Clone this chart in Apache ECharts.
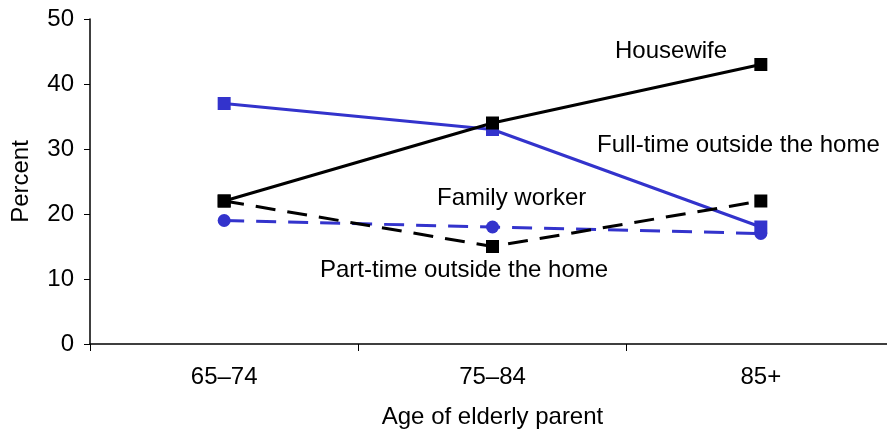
<!DOCTYPE html>
<html><head><meta charset="utf-8">
<script src="https://cdn.jsdelivr.net/npm/echarts@6/dist/echarts.min.js"></script>
<style>html,body{margin:0;padding:0;background:#fff}#c{width:887px;height:432px}</style>
</head><body><div id="c"></div>
<script>
var categories = ['65–74', '75–84', '85+'];
var housewife = [22, 34, 43];
var fullTime = [37, 33, 18];
var familyWorker = [22, 15, 22];
var partTime = [19, 18, 17];
var yTicks = [0, 10, 20, 30, 40, 50];

var F = 'Liberation Sans, Arial, sans-serif';
var FS = 24;
var chart = echarts.init(document.getElementById('c'));
function lbl(text, x, y) {
  return {type: 'text', x: x, y: y, style: {text: text, font: FS + 'px ' + F, fill: '#000', textVerticalAlign: 'middle', verticalAlign: 'middle'}};
}
chart.setOption({
  animation: false,
  grid: {left: 90, width: 805, top: 19, height: 325, outerBoundsMode: 'none', containLabel: false},
  xAxis: {
    type: 'category', data: categories, boundaryGap: true,
    name: 'Age of elderly parent', nameLocation: 'middle', nameGap: 61,
    nameTextStyle: {fontFamily: F, fontSize: FS, color: '#000'},
    axisLine: {lineStyle: {color: '#000', width: 1.5}},
    axisTick: {show: true, length: 7, lineStyle: {color: '#000'}},
    axisLabel: {fontFamily: F, fontSize: FS, color: '#000', margin: 21}
  },
  yAxis: {
    type: 'value', min: yTicks[0], max: yTicks[yTicks.length - 1], interval: 10,
    name: 'Percent', nameLocation: 'middle', nameGap: 57,
    nameTextStyle: {fontFamily: F, fontSize: FS, color: '#000'},
    axisLine: {show: true, lineStyle: {color: '#000', width: 1.5}},
    axisTick: {show: true, length: 6, lineStyle: {color: '#000'}},
    splitLine: {show: false},
    axisLabel: {fontFamily: F, fontSize: FS, color: '#000', margin: 16}
  },
  series: [
    {name: 'Housewife', type: 'line', data: housewife, symbol: 'rect', symbolSize: 13,
     lineStyle: {color: '#000', width: 3}, itemStyle: {color: '#000'}, z: 4},
    {name: 'Full-time outside the home', type: 'line', data: fullTime, symbol: 'rect', symbolSize: 13,
     lineStyle: {color: '#3333cc', width: 3}, itemStyle: {color: '#3333cc'}, z: 3},
    {name: 'Family worker', type: 'line', data: familyWorker, symbol: 'rect', symbolSize: 13,
     lineStyle: {color: '#000', width: 3, type: [20, 12]}, itemStyle: {color: '#000'}, z: 4},
    {name: 'Part-time outside the home', type: 'line', data: partTime, symbol: 'circle', symbolSize: 13,
     lineStyle: {color: '#3333cc', width: 3, type: [20, 12]}, itemStyle: {color: '#3333cc'}, z: 3}
  ],
  graphic: [
    lbl('Housewife', 615, 51),
    lbl('Full-time outside the home', 597, 145),
    lbl('Family worker', 437, 198),
    lbl('Part-time outside the home', 320, 270)
  ]
});
</script></body></html>
